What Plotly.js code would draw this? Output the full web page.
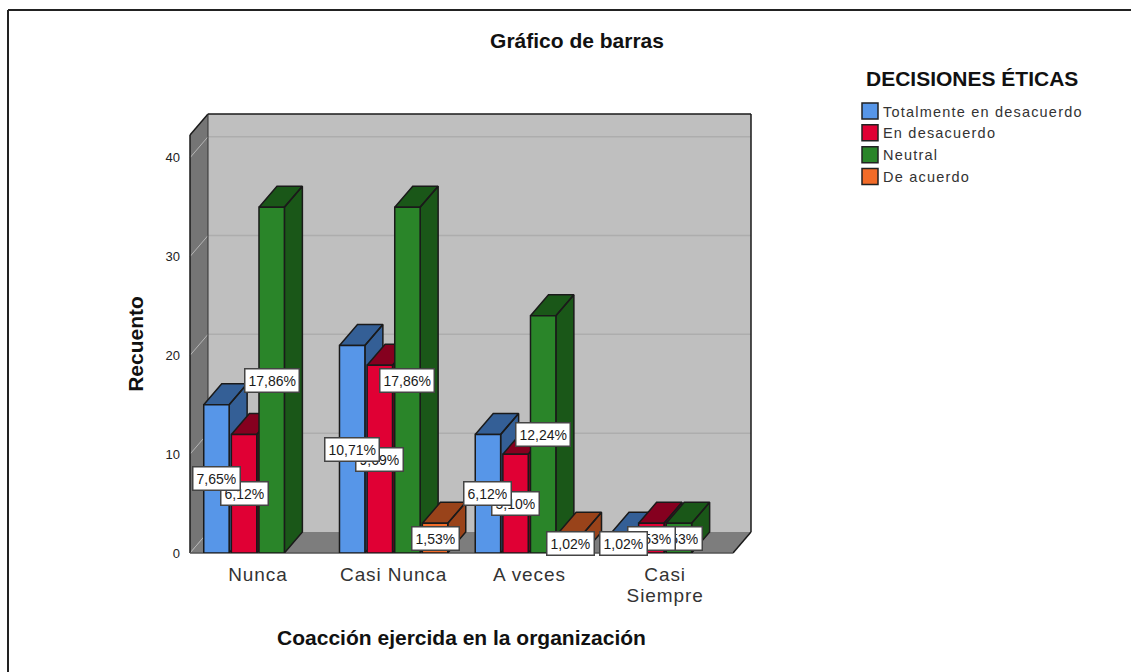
<!DOCTYPE html>
<html><head><meta charset="utf-8">
<script src="https://cdn.plot.ly/plotly-3.0.1.min.js"></script>
<style>
html,body{margin:0;padding:0;background:#fff;overflow:hidden}
#chart{position:absolute;left:0;top:0;width:1131px;height:672px}
.legendtext{letter-spacing:1.2px;transform:translateX(-7px)}
.xtick text{letter-spacing:.9px}
</style></head><body><div id="chart"></div>
<script>
const categories = ['Nunca','Casi Nunca','A veces','Casi<br>Siempre'];
const seriesNames = ['Totalmente en desacuerdo','En desacuerdo','Neutral','De acuerdo'];
const totalmente = [15,21,12,2];
const enDesacuerdo = [12,19,10,3];
const neutral = [35,35,24,3];
const deAcuerdo = [null,3,2,null];
const pctTotalmente = ['7,65%','10,71%','6,12%','1,02%'];
const pctEnDesacuerdo = ['6,12%','9,69%','5,10%','1,53%'];
const pctNeutral = ['17,86%','17,86%','12,24%','1,53%'];
const pctDeAcuerdo = [null,'1,53%','1,02%',null];
const frontColors = ['#5796e8','#e00034','#2a8529','#f26b28'];
const sideColors = ['#345f96','#85001f','#1a5718','#99431a'];
const yTicks = [0,10,20,30,40];

const allValues=[totalmente,enDesacuerdo,neutral,deAcuerdo];
const allPct=[pctTotalmente,pctEnDesacuerdo,pctNeutral,pctDeAcuerdo];
const L=190,R=751,B=553,T=114,W=1131,H=672,frontR=733,frontT=135;
const unitX=(frontR-L)/4, unitY=(B-frontT)/42.3;
const dx=(R-frontR)/unitX, dy=(frontT-T)/unitY;
const barW=0.187, pitch=0.2035;
const off=i=>(i-1.5)*pitch-barW/2;
const xMaxExt=3.5+dx, yMaxExt=42.3+dy;
const px=x=>(x+0.5)/(xMaxExt+0.5), py=y=>y/yMaxExt;

const traces=[], layout={
 width:W,height:H,paper_bgcolor:'#fff',plot_bgcolor:'rgba(0,0,0,0)',
 margin:{l:L,r:W-R,t:T,b:H-B,pad:0},
 font:{family:'"Liberation Sans",Arial,sans-serif',color:'#222'},
 title:{text:'<b>Gráfico de barras</b>',font:{size:21,color:'#111'},x:577/W,xanchor:'center',y:1-41/H,yanchor:'middle'},
 showlegend:true,
 legend:{x:(850-L)/(R-L),xanchor:'left',y:1-(95-T)/(B-T),yanchor:'top',font:{size:14.5,color:'#333'},tracegroupgap:0,itemclick:false,bgcolor:'rgba(0,0,0,0)',itemwidth:30},
 xaxis:{domain:[0,(frontR-L)/(R-L)],range:[-0.5,3.5],tickmode:'array',tickvals:[0,1,2,3],ticktext:categories,
   showgrid:false,zeroline:false,showline:false,ticks:'',tickfont:{size:19,color:'#333'},ticklabelstandoff:8,
   title:{text:'<b>Coacción ejercida en la organización</b>',font:{size:21,color:'#111'},standoff:21},automargin:false},
 yaxis:{domain:[0,(B-frontT)/(B-T)],range:[0,42.3],tickmode:'array',tickvals:yTicks,showgrid:false,zeroline:false,showline:false,ticks:'',ticklabelstandoff:9,
   tickfont:{size:13,color:'#222'},title:{text:'<b>Recuento</b>',font:{size:21,color:'#111'},standoff:16},automargin:false},
 xaxis2:{domain:[0,1],range:[-0.5,xMaxExt],visible:false,anchor:'y2',fixedrange:true},
 yaxis2:{domain:[0,1],range:[0,yMaxExt],visible:false,anchor:'x2',fixedrange:true},
 shapes:[],annotations:[]
};
for(let i=3;i<=9;i++){
 layout['xaxis'+i]={domain:[0,1],range:[-0.5,xMaxExt],visible:false,overlaying:'x2',anchor:'y'+i};
 layout['yaxis'+i]={domain:[0,1],range:[0,yMaxExt],visible:false,overlaying:'y2',anchor:'x'+i};
}
// walls (paper coordinates derived from the same scales)
function poly(pts,fill,line,lw){
 layout.shapes.push({type:'path',xref:'paper',yref:'paper',layer:'below',
  path:'M'+pts.map(p=>px(p[0])+','+py(p[1])).join('L')+'Z',fillcolor:fill,line:{color:line,width:lw}});
}
function seg(a,b,c,w){
 layout.shapes.push({type:'line',xref:'paper',yref:'paper',layer:'below',x0:px(a[0]),y0:py(a[1]),x1:px(b[0]),y1:py(b[1]),line:{color:c,width:w}});
}
const x0=-0.5,x1=3.5,yTop=42.3;
poly([[x0+dx,dy],[x1+dx,dy],[x1+dx,yTop+dy],[x0+dx,yTop+dy]],'#bfbfbf','rgba(0,0,0,0)',0);
poly([[x0,0],[x0+dx,dy],[x0+dx,yTop+dy],[x0,yTop]],'#757575','rgba(0,0,0,0)',0);
poly([[x0,0],[x1,0],[x1+dx,dy],[x0+dx,dy]],'#7d7d7d','rgba(0,0,0,0)',0);
yTicks.forEach(v=>{
 if(v>0) seg([x0+dx,v+dy],[x1+dx,v+dy],'#adadad',1.5);
 seg([x0,v],[x0+dx,v+dy],'#b5b5b5',1);
});
const edge='#1a1a1a';
seg([x0,0],[x0,yTop],edge,1.5);seg([x0,yTop],[x0+dx,yTop+dy],edge,1.5);
seg([x0+dx,yTop+dy],[x1+dx,yTop+dy],edge,1.5);seg([x1+dx,yTop+dy],[x1+dx,dy],edge,1.5);
seg([x1+dx,dy],[x1,0],edge,1.5);seg([x0+dx,dy],[x0+dx,yTop+dy],'#333',1);
seg([x0,0],[x1,0],'#555',1.5);

// bars: painter's order, side/top faces then the front bar for every series
allValues.forEach((vals,s)=>{
 const xs=[],ys=[];
 vals.forEach((v,c)=>{
  if(v==null) return;
  const a=c+off(s), b=a+barW;
  xs.push(b,b+dx,b+dx,b,b,null, a,b,b+dx,a+dx,a,null);
  ys.push(0,dy,v+dy,v,0,null, v,v,v+dy,v+dy,v,null);
 });
 const sub=2*s+2;
 traces.push({type:'scatter',mode:'lines',x:xs,y:ys,fill:'toself',fillcolor:sideColors[s],
  line:{color:'#1a1a1a',width:1.5},xaxis:'x'+sub,yaxis:'y'+sub,showlegend:false,hoverinfo:'skip'});
 traces.push({type:'bar',x:[0,1,2,3],y:vals,width:barW,offset:off(s),
  marker:{color:frontColors[s],line:{color:'#1a1a1a',width:1.5}},xaxis:'x'+(sub+1),yaxis:'y'+(sub+1),
  name:seriesNames[s],showlegend:false});
 // legend entries
 traces.push({type:'scatter',mode:'markers',x:[null],y:[null],name:seriesNames[s],xaxis:'x',yaxis:'y',
  marker:{symbol:'square',size:16,color:frontColors[s],line:{color:'#222',width:1.5}},showlegend:true,hoverinfo:'skip'});
});
// value labels: later series first so that the first series ends on top
for(let s=3;s>=0;s--){
 allValues[s].forEach((v,c)=>{
  if(v==null) return;
  layout.annotations.push({xref:'x',yref:'y',x:c+off(s)+barW/2,y:v/2,text:allPct[s][c],showarrow:false,
   font:{size:14,color:'#1a1a1a'},bgcolor:'#fff',bordercolor:'#444',borderwidth:1.5,borderpad:3,height:16,align:'center',xanchor:'center',yanchor:'middle'});
 });
}
// legend heading and outer frame
layout.annotations.push({xref:'paper',yref:'paper',x:(865-L)/(R-L),y:1-(78-T)/(B-T),xanchor:'left',yanchor:'middle',borderpad:0,
 text:'<b>DECISIONES ÉTICAS</b>',showarrow:false,font:{size:21,color:'#111'}});
const fx=v=>(v-L)/(R-L), fy=v=>1-(v-T)/(B-T);
layout.shapes.push({type:'line',xref:'paper',yref:'paper',layer:'above',x0:fx(8),x1:fx(1131),y0:fy(10),y1:fy(10),line:{color:'#222',width:2}});
layout.shapes.push({type:'line',xref:'paper',yref:'paper',layer:'above',x0:fx(8),x1:fx(8),y0:fy(10),y1:fy(672),line:{color:'#222',width:2}});
Plotly.newPlot('chart',traces,layout,{displayModeBar:false,staticPlot:true}).then(()=>{
 // tighter line spacing for the two-line category label
 document.querySelectorAll('.xtick text tspan.line').forEach((t,i)=>{
  if(i%2===1){const y=parseFloat(t.getAttribute('y'));if(!isNaN(y))t.setAttribute('y',y-3.5);}
 });
});
</script></body></html>
